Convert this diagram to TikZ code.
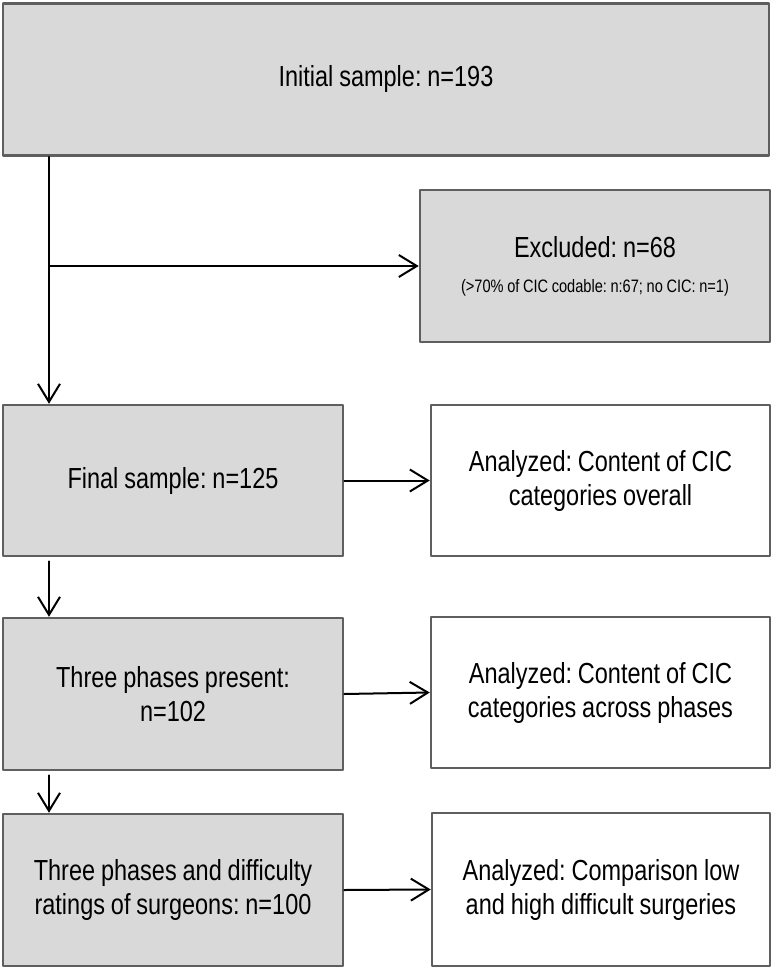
\documentclass[tikz,border=0pt]{standalone}
\usepackage{fontspec}
\setmainfont{Liberation Sans}[FakeStretch=0.81, WordSpace=0.9]
\frenchspacing
\usetikzlibrary{arrows.meta}
\definecolor{boxgray}{HTML}{D9D9D9}
\definecolor{edgegray}{HTML}{5F5F5F}
\tikzset{
  stage/.style={draw=edgegray, line width=2.5pt, fill=boxgray, align=center,
    inner sep=0pt, font=\fontsize{29}{34}\selectfont},
  result/.style={stage, fill=white},
  flow/.style={line width=2pt, -{Straight Barb[length=18pt,width=22pt,line width=2pt]}}
}
\begin{document}
\begin{tikzpicture}[x=1pt, y=-1pt, line join=round, line cap=round]
			\useasboundingbox (0,0) rectangle (774,969);
			\node[stage, minimum width=766pt, minimum height=152pt] (init) at (386,79.5) {Initial sample: n=193};
			\node[stage, minimum width=350pt, minimum height=152pt] (excl) at (595,266)
				{Excluded: n=68\\[1pt]{\fontsize{18}{20}\selectfont (>70\% of CIC codable: n:67; no CIC: n=1)}};
			\node[stage, minimum width=340pt, minimum height=151pt] (final) at (173,480.5) {Final sample: n=125};
			\node[result, minimum width=339pt, minimum height=151pt] (an1) at (600.5,480.5) {Analyzed: Content of CIC\\categories overall};
			\node[stage, minimum width=340pt, minimum height=152pt] (three) at (173,694) {Three phases present:\\n=102};
			\node[result, minimum width=339pt, minimum height=151pt] (an2) at (600.5,692.5) {Analyzed: Content of CIC\\categories across phases};
			\node[stage, minimum width=340pt, minimum height=152pt] (diff) at (173,890) {Three phases and difficulty\\ratings of surgeons: n=100};
			\node[result, minimum width=338pt, minimum height=153pt] (an3) at (601,889.5) {Analyzed: Comparison low\\and high difficult surgeries};
			\coordinate (split) at (49,266);
			\draw[flow] (init.south -| split) -- (final.north -| split);
			\draw[flow] (split) -- (excl.west);
			\draw[flow] ([yshift=-4pt]final.south -| split) -- (three.north -| split);
			\draw[flow] ([yshift=-4pt]three.south -| split) -- (diff.north -| split);
			\draw[flow] (final.east) -- (an1.west);
			\draw[flow] (three.east) -- (an2.west);
			\draw[flow] (diff.east) -- (an3.west);
		\end{tikzpicture}
\end{document}
